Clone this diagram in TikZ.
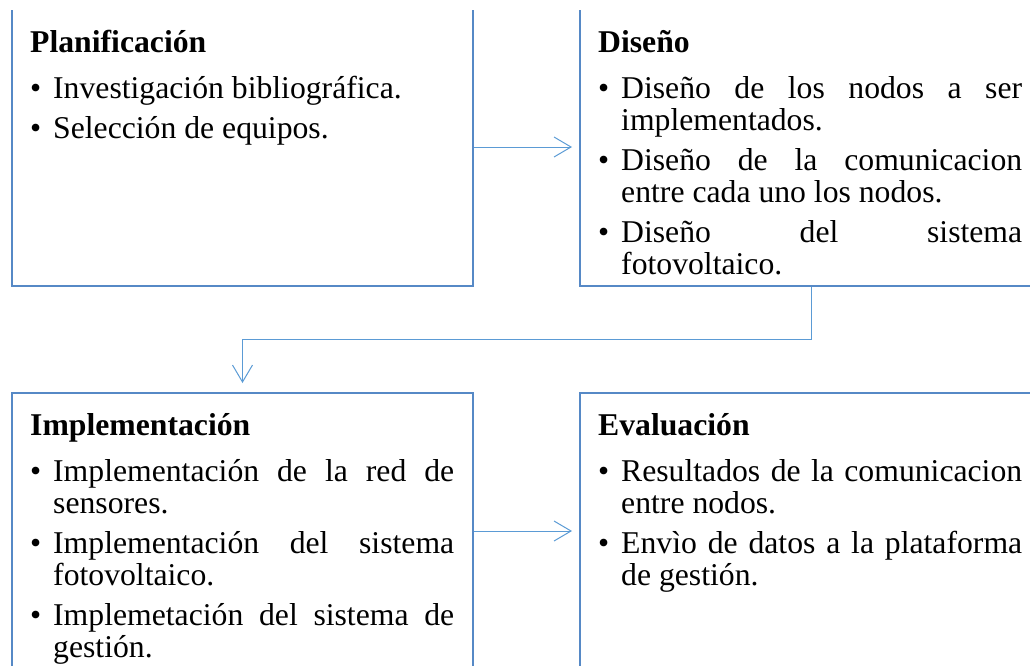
\documentclass[tikz,border=0pt]{standalone}
\usepackage{fontspec}
\setmainfont{Liberation Serif}
\usetikzlibrary{arrows.meta}
\definecolor{boxblue}{HTML}{5689C6}
\definecolor{linkblue}{HTML}{5B9BD5}
\newcommand\bitem[1]{\par\hangindent=23pt\hangafter=1\noindent\makebox[23pt][l]{•}#1}
\newcommand\stagesetup{\setlength\parskip{8pt}\setlength\parindent{0pt}\hyphenpenalty=10000\exhyphenpenalty=10000\tolerance=10000}
\tikzset{
  stagebox/.style={draw=boxblue, line width=2pt, inner sep=0pt, anchor=north west},
  stagetext/.style={anchor=base west, text width=424pt, align=justify, inner sep=0pt,
    font=\fontsize{31.7}{32}\selectfont},
  link/.style={draw=linkblue, line width=1pt, -{Straight Barb[length=17pt,width=20pt,line width=1pt]}},
}
\begin{document}
\begin{tikzpicture}[x=1pt,y=-1pt]
\useasboundingbox (0,0) rectangle (1030,665);
\clip (0,10) rectangle (1030,665);
\node[stagebox, minimum width=461pt, minimum height=278pt] (plan) at (11,7) {};
\node[stagebox, minimum width=500pt, minimum height=278pt] (dis) at (579,7) {};
\node[stagebox, minimum width=461pt, minimum height=276pt] (impl) at (11,392) {};
\node[stagebox, minimum width=500pt, minimum height=276pt] (eval) at (579,392) {};

\node[stagetext] (plant) at (30,52) {\stagesetup\textbf{Planificación}\par\vspace{6pt}%
\bitem{Investigación bibliográfica.}%
\bitem{Selección de equipos.}\par};

\node[stagetext] (dist) at (598,52) {\stagesetup\textbf{Diseño}\par\vspace{6pt}%
\bitem{Diseño de los nodos a ser\linebreak implementados.}%
\bitem{Diseño de la comunicacion\linebreak entre cada uno los nodos.}%
\bitem{Diseño del sistema\linebreak fotovoltaico.}\par};

\node[stagetext] (implt) at (30,435) {\stagesetup\textbf{Implementación}\par\vspace{6pt}%
\bitem{Implementación de la red de\linebreak sensores.}%
\bitem{Implementación del sistema\linebreak fotovoltaico.}%
\bitem{Implemetación del sistema de\linebreak gestión.}\par};

\node[stagetext] (evalt) at (598,435) {\stagesetup\textbf{Evaluación}\par\vspace{6pt}%
\bitem{Resultados de la comunicacion\linebreak entre nodos.}%
\bitem{Envìo de datos a la plataforma\linebreak de gestión.}\par};

\draw[link, shorten >=7pt] (plan.east) -- (dis.west);
\draw[link, shorten >=9pt] ([xshift=-19pt]dis.south) -- ++(0,52) -| (impl.north);
\draw[link, shorten >=7pt] (impl.east) -- (eval.west);
\end{tikzpicture}
\end{document}
